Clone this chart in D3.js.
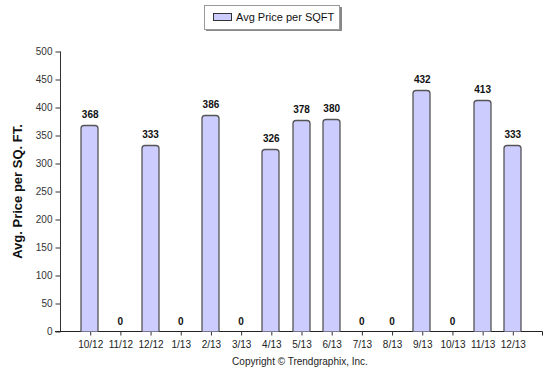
<!DOCTYPE html>
<html><head><meta charset="utf-8">
<script src="https://cdn.jsdelivr.net/npm/d3@7/dist/d3.min.js"></script>
<style>body{margin:0;background:#fff;} svg{display:block;}</style>
</head><body>
<script>
const categories = ["10/12","11/12","12/12","1/13","2/13","3/13","4/13","5/13","6/13","7/13","8/13","9/13","10/13","11/13","12/13"];
const values = [368,0,333,0,386,0,326,378,380,0,0,432,0,413,333];
const yTicks = [0,50,100,150,200,250,300,350,400,450,500];
const seriesName = "Avg Price per SQFT";
const yTitle = "Avg. Price per SQ. FT.";
const copyright = "Copyright \u00A9 Trendgraphix, Inc.";

const W = 548, H = 380;
const svg = d3.select("body").append("svg").attr("width", W).attr("height", H);
const font = "'Liberation Sans', Arial, sans-serif";

const x = d3.scalePoint().domain(categories).range([60, 543]).padding(1);
const y = d3.scaleLinear().domain([0, 500]).range([331.5, 51.5]);

// Y axis
const yAxis = svg.append("g").attr("transform", "translate(60.5,0)")
  .call(d3.axisLeft(y).tickValues(yTicks).tickSize(5).tickPadding(3));
yAxis.select(".domain").attr("stroke", "#333").attr("d", `M0,${y(500)}V${y(0)}`);
yAxis.selectAll(".tick line").attr("stroke", "#333");
yAxis.selectAll(".tick text").attr("fill", "#333").style("font-family", font).style("font-size", "10px");

// X axis
const xAxis = svg.append("g").attr("transform", `translate(0,${y(0)})`)
  .call(d3.axisBottom(x).tickSize(4).tickPadding(5));
xAxis.select(".domain").attr("stroke", "#222").attr("d", "M55,0H542.5V4");
xAxis.selectAll(".tick line").attr("stroke", "#333");
xAxis.selectAll(".tick text").attr("fill", "#222").style("font-family", font).style("font-size", "10px");

// Bars
const bw = 17, r = 3;
function barPath(cx, top, bottom) {
  const l = cx - bw/2, rr = cx + bw/2;
  return `M${l},${bottom}V${top + r}Q${l},${top} ${l + r},${top}H${rr - r}Q${rr},${top} ${rr},${top + r}V${bottom}`;
}
svg.append("g").selectAll("path").data(values.map((v,i)=>({v, c: categories[i]})))
  .join("path")
  .filter(d => d.v > 0)
  .attr("d", d => barPath(Math.round(x(d.c)) - 0.5, Math.round(y(d.v)) + 0.5, y(0)))
  .attr("fill", "#ccccff").attr("stroke", "#555").attr("stroke-width", 1.3);

// Value labels
svg.append("g").selectAll("text").data(values.map((v,i)=>({v, c: categories[i]})))
  .join("text")
  .attr("x", d => x(d.c))
  .attr("y", d => y(d.v) - 7)
  .attr("text-anchor", "middle")
  .style("font-family", font).style("font-size", "10px").style("font-weight", "bold")
  .attr("fill", "#111")
  .text(d => d.v);

// Y title
svg.append("text")
  .attr("transform", `translate(22,${(y(0)+y(500))/2}) rotate(-90)`)
  .attr("text-anchor", "middle")
  .style("font-family", font).style("font-size", "13px").style("font-weight", "bold")
  .attr("fill", "#111").text(yTitle);

// Legend
const lg = svg.append("g");
lg.append("rect").attr("x", 206).attr("y", 7).attr("width", 136).attr("height", 24).attr("fill", "#888");
lg.append("rect").attr("x", 204.5).attr("y", 5.5).attr("width", 135).attr("height", 24).attr("fill", "#fff").attr("stroke", "#999");
lg.append("rect").attr("x", 213.5).attr("y", 13.5).attr("width", 18).attr("height", 7).attr("fill", "#ccccff").attr("stroke", "#333");
lg.append("text").attr("x", 236).attr("y", 21).style("font-family", font).style("font-size", "11px").attr("fill", "#111").text(seriesName);

// Copyright
svg.append("text").attr("x", 300).attr("y", 365).attr("text-anchor", "middle")
  .style("font-family", font).style("font-size", "10px").attr("fill", "#222").text(copyright);
</script>
</body></html>
